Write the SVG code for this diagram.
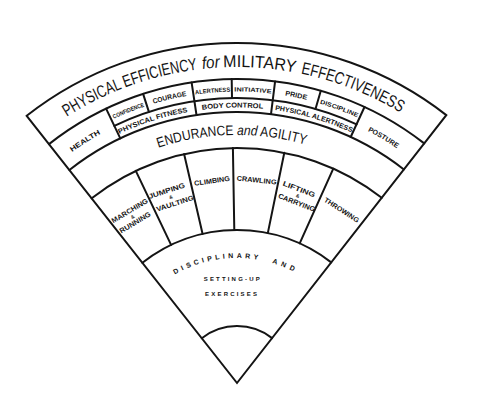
<svg xmlns="http://www.w3.org/2000/svg" xmlns:xlink="http://www.w3.org/1999/xlink" width="477" height="406" viewBox="0 0 477 406">
<style>
.ln{fill:none;stroke:#141414;stroke-width:2;stroke-linejoin:miter;stroke-linecap:round}
.t{font-family:"Liberation Sans",Arial,sans-serif;fill:#141414}
.big{font-size:17px}
.mid{font-size:14px}
.s{font-size:7px;font-weight:bold}
.xs{font-size:6px;font-weight:bold}
.it{font-style:italic}
</style>
<defs>
<path id="pTitle" d="M 13.6 159.6 A 316 316 0 0 1 460.4 159.6"/>
<path id="pRow1" d="M 30.9 176.9 A 291.5 291.5 0 0 1 443.1 176.9"/>
<path id="pRow2" d="M 42.2 188.2 A 275.5 275.5 0 0 1 431.8 188.2"/>
<path id="pSide" d="M 36.2 182.2 A 284 284 0 0 1 437.8 182.2"/>
<path id="pEnd" d="M 61.6 207.6 A 248 248 0 0 1 412.4 207.6"/>
<path id="pDisc" d="M 148.6 294.6 A 125 125 0 0 1 325.4 294.6"/>
</defs>
<rect width="477" height="406" fill="#ffffff"/>
<g id="lines">
<path class="ln" d="M 237 383 L 26.7 115.8 A 340 340 0 0 1 446.3 115.1 Z" stroke-width="2.2"/>
<path class="ln" d="M 49.0 144.1 A 304 304 0 0 1 424.2 143.4"/>
<path class="ln" d="M 114.3 125.8 A 285 285 0 0 1 356.6 124.3"/>
<path class="ln" d="M 69.4 170.0 A 271 271 0 0 1 403.9 169.5"/>
<path class="ln" d="M 91.7 198.3 A 235 235 0 0 1 381.7 197.8"/>
<path class="ln" d="M 142.4 262.8 A 153 153 0 0 1 331.2 262.4"/>
<path class="ln" d="M 201.8 338.2 A 57 57 0 0 1 272.1 338.1"/>
<path class="ln" d="M 120.3 138.4 L 106.1 108.6 M 148.9 111.9 L 143.1 93.9 M 196.5 115.0 L 191.6 82.4 M 232.0 98.0 L 231.7 79.0 M 271.0 114.1 L 275.1 81.4 M 315.5 109.0 L 320.8 90.8 M 350.7 137.0 L 364.5 107.0"/>
<path class="ln" d="M 171.1 244.9 L 135.8 170.9 M 202.6 233.9 L 184.1 154.0 M 234.3 230.0 L 232.9 148.0 M 267.8 233.1 L 284.3 152.8 M 299.7 243.4 L 333.3 168.7"/>
</g>
<g id="title" class="t big">
<text><textPath xlink:href="#pTitle" href="#pTitle" startOffset="68.4" textLength="140" lengthAdjust="spacingAndGlyphs">PHYSICAL EFFICIENCY</textPath></text>
<text class="it"><textPath xlink:href="#pTitle" href="#pTitle" startOffset="213.4" textLength="17.6" lengthAdjust="spacingAndGlyphs">for</textPath></text>
<text><textPath xlink:href="#pTitle" href="#pTitle" startOffset="234.4" textLength="72.2" lengthAdjust="spacingAndGlyphs">MILITARY</textPath></text>
<text><textPath xlink:href="#pTitle" href="#pTitle" startOffset="312.2" textLength="107.5" lengthAdjust="spacingAndGlyphs">EFFECTIVENESS</textPath></text>
</g>
<g id="health" class="t s"><text text-anchor="middle"><textPath xlink:href="#pSide" href="#pSide" startOffset="63.9" textLength="34" lengthAdjust="spacingAndGlyphs">HEALTH</textPath></text></g>
<g id="confidence" class="t xs"><text text-anchor="middle"><textPath xlink:href="#pRow1" href="#pRow1" startOffset="118.3" textLength="33" lengthAdjust="spacingAndGlyphs">CONFIDENCE</textPath></text></g>
<g id="courage" class="t s"><text text-anchor="middle"><textPath xlink:href="#pRow1" href="#pRow1" startOffset="161.2" textLength="34" lengthAdjust="spacingAndGlyphs">COURAGE</textPath></text></g>
<g id="alertness" class="t xs"><text text-anchor="middle"><textPath xlink:href="#pRow1" href="#pRow1" startOffset="204.6" textLength="35" lengthAdjust="spacingAndGlyphs">ALERTNESS</textPath></text></g>
<g id="initiative" class="t xs"><text text-anchor="middle"><textPath xlink:href="#pRow1" href="#pRow1" startOffset="244.7" textLength="37" lengthAdjust="spacingAndGlyphs">INITIATIVE</textPath></text></g>
<g id="pride" class="t s"><text text-anchor="middle"><textPath xlink:href="#pRow1" href="#pRow1" startOffset="288.0" textLength="22" lengthAdjust="spacingAndGlyphs">PRIDE</textPath></text></g>
<g id="discipline" class="t xs"><text text-anchor="middle"><textPath xlink:href="#pRow1" href="#pRow1" startOffset="332.7" textLength="40" lengthAdjust="spacingAndGlyphs">DISCIPLINE</textPath></text></g>
<g id="posture" class="t s"><text text-anchor="middle"><textPath xlink:href="#pSide" href="#pSide" startOffset="375.7" textLength="34" lengthAdjust="spacingAndGlyphs">POSTURE</textPath></text></g>
<g id="physical-fitness" class="t s"><text text-anchor="middle"><textPath xlink:href="#pRow2" href="#pRow2" startOffset="130.8" textLength="72" lengthAdjust="spacingAndGlyphs">PHYSICAL FITNESS</textPath></text></g>
<g id="body-control" class="t s"><text text-anchor="middle"><textPath xlink:href="#pRow2" href="#pRow2" startOffset="211.8" textLength="61" lengthAdjust="spacingAndGlyphs">BODY CONTROL</textPath></text></g>
<g id="physical-alertness" class="t s"><text text-anchor="middle"><textPath xlink:href="#pRow2" href="#pRow2" startOffset="294.3" textLength="80" lengthAdjust="spacingAndGlyphs">PHYSICAL ALERTNESS</textPath></text></g>
<g id="endurance" class="t mid"><text><textPath xlink:href="#pEnd" href="#pEnd" startOffset="114.7" textLength="149.3" lengthAdjust="spacingAndGlyphs">ENDURANCE <tspan class="it">and</tspan> AGILITY</textPath></text></g>
<g id="marching" class="t s" transform="translate(132.4,216.6) rotate(-31)">
<text x="0.7" y="-4" text-anchor="middle" textLength="41" lengthAdjust="spacingAndGlyphs">MARCHING</text>
<text x="0" y="2" text-anchor="middle" font-size="5">&amp;</text>
<text x="-0.7" y="8.8" text-anchor="middle" textLength="35" lengthAdjust="spacingAndGlyphs">RUNNING</text>
</g>
<g id="jumping" class="t s" transform="translate(170.8,197) rotate(-18)">
<text x="-2" y="-4.7" text-anchor="middle" textLength="38" lengthAdjust="spacingAndGlyphs">JUMPING</text>
<text x="0" y="1.8" text-anchor="middle" font-size="5">&amp;</text>
<text x="2" y="9.8" text-anchor="middle" textLength="39" lengthAdjust="spacingAndGlyphs">VAULTING</text>
</g>
<g id="climbing" class="t s" transform="translate(212,180.8) rotate(-8)"><text x="0" y="2.5" text-anchor="middle" textLength="36" lengthAdjust="spacingAndGlyphs">CLIMBING</text></g>
<g id="crawling" class="t s" transform="translate(256.7,180) rotate(6)"><text x="0" y="2.5" text-anchor="middle" textLength="40" lengthAdjust="spacingAndGlyphs">CRAWLING</text></g>
<g id="lifting" class="t s" transform="translate(297.9,195.8) rotate(21)">
<text x="-1.3" y="-4.2" text-anchor="middle" textLength="34" lengthAdjust="spacingAndGlyphs">LIFTING</text>
<text x="0" y="1.8" text-anchor="middle" font-size="5">&amp;</text>
<text x="1.3" y="9.2" text-anchor="middle" textLength="39" lengthAdjust="spacingAndGlyphs">CARRYING</text>
</g>
<g id="throwing" class="t s" transform="translate(341.7,210) rotate(33)"><text x="0" y="2.5" text-anchor="middle" textLength="40" lengthAdjust="spacingAndGlyphs">THROWING</text></g>
<g id="disciplinary" class="t s">
<text><textPath xlink:href="#pDisc" href="#pDisc" startOffset="33.2" textLength="85.8" lengthAdjust="spacing">DISCIPLINARY</textPath></text>
<text><textPath xlink:href="#pDisc" href="#pDisc" startOffset="133.5" textLength="23.1" lengthAdjust="spacing">AND</textPath></text>
<text x="231.7" y="281.3" text-anchor="middle" font-size="6" textLength="56" lengthAdjust="spacing">SETTING-UP</text>
<text x="231" y="295.7" text-anchor="middle" font-size="6" textLength="52" lengthAdjust="spacing">EXERCISES</text>
</g>
</svg>
